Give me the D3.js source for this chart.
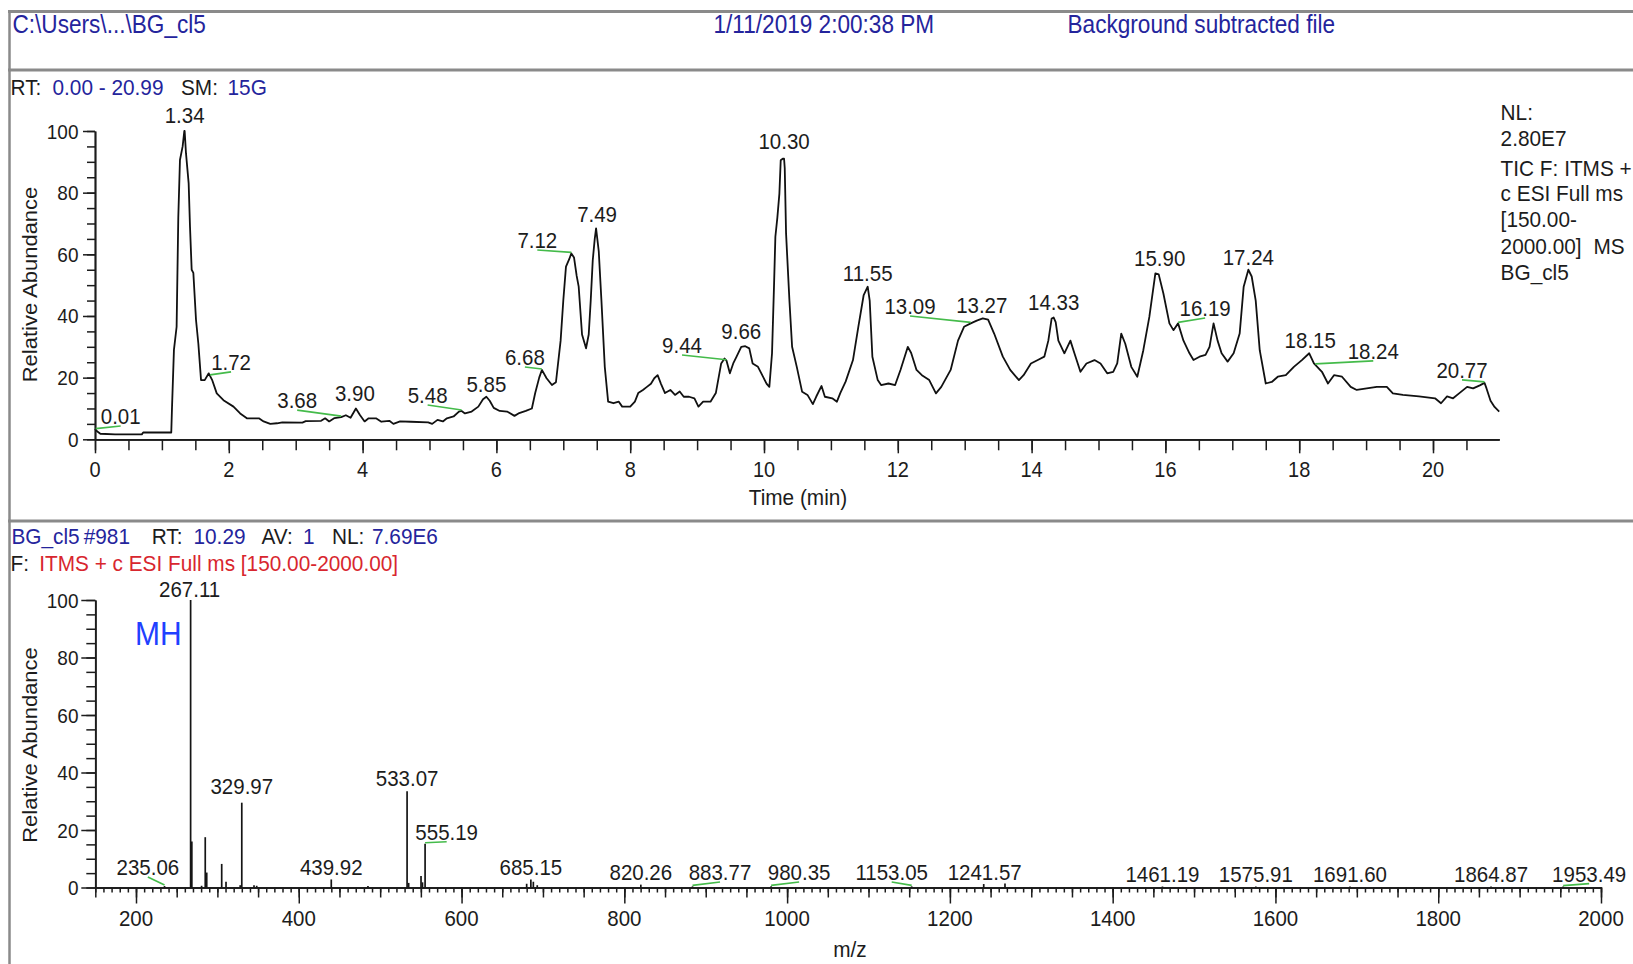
<!DOCTYPE html>
<html>
<head>
<meta charset="utf-8">
<script src="https://cdn.jsdelivr.net/npm/d3@7"></script>
<style>
  html, body { margin: 0; padding: 0; background: #fff; }
  svg { display: block; font-family: "Liberation Sans", Arial, Helvetica, sans-serif; }
</style>
</head>
<body>
<svg id="chart" width="1633" height="964"></svg>
<script>
// ---------------- Total ion chromatogram (RT in min, relative abundance %) ----------------
const ticTrace = [
  [0.00,3.4],[0.03,2.6],[0.08,1.8],[0.30,1.6],[0.70,1.6],[0.72,2.2],[1.14,2.2],[1.15,9.5],
  [1.18,29],[1.22,36.5],[1.245,72],[1.27,90.6],[1.31,95],[1.335,100],[1.34,100],[1.36,92.8],
  [1.40,83],[1.42,69],[1.445,55],[1.47,54],[1.51,38.7],[1.545,31],[1.585,19.2],[1.64,19.2],
  [1.70,21.4],[1.75,19.3],[1.82,14.9],[1.92,12.7],[2.07,10.6],[2.17,8.4],[2.27,6.8],[2.45,6.8],
  [2.52,5.8],[2.62,5.0],[2.72,5.2],[2.80,5.5],[3.10,5.4],[3.15,5.9],[3.38,6.0],[3.44,6.8],
  [3.50,5.8],[3.58,6.9],[3.68,7.2],[3.75,7.8],[3.82,7.0],[3.90,10],[3.96,7.9],[4.03,5.8],
  [4.09,6.8],[4.20,6.8],[4.28,5.7],[4.40,6.0],[4.46,5.0],[4.56,5.8],[4.72,5.7],[4.98,5.5],
  [5.04,5.0],[5.12,6.3],[5.20,5.8],[5.26,6.8],[5.36,7.4],[5.44,9.0],[5.48,9.2],[5.53,8.4],
  [5.63,9.0],[5.73,10.6],[5.80,13],[5.85,13.8],[5.90,12.5],[5.96,10.2],[6.05,9.2],[6.16,9.0],
  [6.27,7.6],[6.33,8.4],[6.44,9.2],[6.53,10],[6.58,15],[6.64,20],[6.68,22.5],[6.75,19.8],
  [6.83,17.6],[6.89,18.5],[6.96,32],[7.00,45],[7.04,56],[7.09,58.5],[7.12,60.3],[7.16,59],
  [7.20,53],[7.23,49.5],[7.28,34],[7.34,29.5],[7.38,34],[7.41,45],[7.44,58],[7.47,65],
  [7.49,68.4],[7.53,61],[7.57,45],[7.62,23.5],[7.67,12.2],[7.75,11.7],[7.83,12.2],[7.88,10.6],
  [8.00,10.6],[8.07,12.2],[8.12,15],[8.19,16],[8.25,17],[8.31,18],[8.36,19.8],[8.41,20.8],
  [8.46,18],[8.52,15],[8.60,16],[8.67,14.4],[8.74,15.5],[8.80,13.8],[8.88,13.8],[8.96,13.3],
  [9.02,10.6],[9.09,12.2],[9.20,12.2],[9.28,15],[9.36,24.6],[9.41,26.2],[9.44,25.5],[9.49,21.4],
  [9.54,24.6],[9.59,26.8],[9.66,30],[9.72,30.2],[9.78,29.5],[9.83,24.6],[9.91,23.5],[9.96,21.4],
  [10.04,18],[10.08,17],[10.12,27.9],[10.15,50],[10.17,65.7],[10.20,72],[10.23,79.7],[10.25,90.5],
  [10.28,91],[10.30,91],[10.31,88],[10.33,66.7],[10.38,45],[10.42,30],[10.49,23.5],[10.57,15.4],
  [10.65,14.4],[10.73,11.4],[10.78,13.8],[10.86,17.3],[10.91,13.8],[11.02,13.3],[11.09,12.2],[11.14,15],
  [11.22,18.7],[11.33,25.7],[11.41,36.5],[11.49,46.8],[11.55,49.5],[11.58,45],[11.62,26.8],[11.70,19.2],
  [11.75,17.6],[11.86,18.1],[11.96,17.6],[12.04,22.5],[12.15,30],[12.20,28],[12.28,22.5],[12.36,20.8],
  [12.47,19.2],[12.57,14.9],[12.65,17],[12.79,22.5],[12.90,32],[12.99,36.5],[13.09,37.6],[13.18,38.5],
  [13.27,39.2],[13.35,38.8],[13.44,34.3],[13.57,26.8],[13.68,22.5],[13.81,19.2],[13.88,20.8],[13.99,24.6],
  [14.10,25.8],[14.19,26.8],[14.25,32],[14.30,39.2],[14.33,39.5],[14.36,38],[14.40,32],[14.49,27.9],
  [14.58,32],[14.64,27.9],[14.73,21.9],[14.82,24.6],[14.94,25.7],[15.03,24.6],[15.13,21.4],[15.22,21.9],
  [15.28,24.6],[15.34,34.3],[15.40,31],[15.49,23.5],[15.58,20.3],[15.67,28.9],[15.76,39.7],[15.85,53.8],
  [15.90,53.5],[15.97,47.3],[16.06,37.6],[16.12,35.4],[16.19,37.6],[16.27,32],[16.36,27.9],[16.42,25.7],
  [16.51,26.8],[16.60,27.4],[16.66,30],[16.72,37.6],[16.78,32],[16.84,27.9],[16.93,25.2],[17.02,27.9],
  [17.11,34.3],[17.17,49.5],[17.24,55],[17.29,52.8],[17.35,45],[17.41,28.9],[17.50,18.1],[17.59,18.6],
  [17.68,20.3],[17.80,20.8],[17.92,23.5],[18.04,25.7],[18.15,27.9],[18.22,24.6],[18.34,21.9],[18.43,18.1],
  [18.52,20.8],[18.64,20.3],[18.77,17],[18.86,16],[19.01,16.5],[19.16,17],[19.31,17],[19.40,14.9],
  [19.55,14.4],[19.79,13.9],[20.03,13.3],[20.12,11.7],[20.21,13.9],[20.30,13.3],[20.39,14.9],[20.51,17],
  [20.60,16.5],[20.70,17.5],[20.77,18.3],[20.80,16.5],[20.86,12.5],[20.92,10.5],[20.99,9]
];
const ticPeakLabels = [0.01,1.34,1.72,3.68,3.90,5.48,5.85,6.68,7.12,7.49,9.44,9.66,10.30,
                       11.55,13.09,13.27,14.33,15.90,16.19,17.24,18.15,18.24,20.77];
const rtTicks = [0,2,4,6,8,10,12,14,16,18,20];
const abundanceTicks = [0,20,40,60,80,100];

// ---------------- Mass spectrum at RT 10.29 (m/z, relative abundance %) ----------------
const spectrumPeaks = [
  [235.06,0.5],[267.11,100],[268.6,16],[280.6,0.6],[285.08,17.5],[286.9,5.2],[305.3,8.2],[310.6,2],
  [328.0,0.8],[329.97,29.5],[345.0,0.8],[348.3,0.6],[439.92,2.8],[485.0,0.5],[533.07,33.5],[535.0,1.6],
  [550.2,4],[552.0,1.8],[555.19,15.2],[680.0,1.3],[685.15,2.8],[688.2,2],[693.0,0.8],[820.26,1],
  [883.77,0.4],[980.35,0.4],[1153.05,0.4],[1241.57,1.2],[1267.7,1.4],[1461.19,0.3],[1575.91,0.3],
  [1691.60,0.3],[1864.87,0.3],[1953.49,0.3]
];
const spectrumLabels = [235.06,267.11,329.97,439.92,533.07,555.19,685.15,820.26,883.77,980.35,
                        1153.05,1241.57,1461.19,1575.91,1691.60,1864.87,1953.49];
const mzTicks = [200,400,600,800,1000,1200,1400,1600,1800,2000];

// ---------------- label placement: [dx of label centre, dy of baseline] from the peak, px ----------------
const ticLabelOffsets = {
  "0.01":[25,-5.7], "1.34":[0,-8], "1.72":[21,-6], "3.68":[-44,-9], "3.90":[-1,-7], "5.48":[-34,-8],
  "5.85":[0,-5], "6.68":[-17,-5], "7.12":[-34,-5.4], "7.49":[1,-6.7], "9.44":[-44.5,-7.7],
  "9.66":[0,-8], "10.30":[0,-9.5], "11.55":[0,-6], "13.09":[-60.7,-9.4], "13.27":[-1,-5.4],
  "14.33":[0,-7.5], "15.90":[1,-8.4], "16.19":[27,-7.4], "17.24":[0,-4.7], "18.15":[1,-5],
  "18.24":[58,-6], "20.77":[-22.5,-5]
};
const specLabelOffsets = {
  "235.06":[-16.7,-11], "267.11":[-1,-3.5], "329.97":[0,-8.5], "439.92":[0,-4.5], "533.07":[0,-5],
  "555.19":[21.6,-4], "685.15":[0,-4.5], "820.26":[0,-4.6], "883.77":[27.5,-6.3], "980.35":[28,-6.3],
  "1153.05":[-20,-6.3], "1241.57":[1,-4], "1461.19":[0,-5], "1575.91":[0,-5], "1691.60":[0,-5],
  "1864.87":[0,-5], "1953.49":[26,-5]
};

// ---------------- drawing ----------------
const svg = d3.select("#chart");
const BLUE = "#24249c", RED = "#d8262e", INK = "#1c1c1c", GREEN = "#44bb4a", FRAME = "#8a8a8a";

// text is drawn slightly tall (scaleY) to give the narrow instrument-software look
function txt(g, x, y, str, o = {}) {
  return g.append("text")
    .attr("transform", `translate(${x},${y}) scale(1,1.1)`)
    .attr("text-anchor", o.anchor || "start")
    .attr("font-size", o.size || 20.8)
    .attr("fill", o.fill || INK)
    .text(str);
}
function richTxt(g, y, parts, size) {
  const t = g.append("text")
    .attr("transform", `translate(0,${y}) scale(1,1.1)`)
    .attr("font-size", size || 20.8);
  parts.forEach(([s, color, x]) => t.append("tspan").attr("x", x).attr("fill", color).text(s));
  return t;
}

// window frame
const frame = svg.append("g").attr("stroke", FRAME).attr("fill", "none");
frame.append("line").attr("x1", 8).attr("x2", 1633).attr("y1", 11.5).attr("y2", 11.5).attr("stroke-width", 3);
frame.append("line").attr("x1", 8).attr("x2", 1633).attr("y1", 70).attr("y2", 70).attr("stroke-width", 3);
frame.append("line").attr("x1", 8).attr("x2", 1633).attr("y1", 521).attr("y2", 521).attr("stroke-width", 3);
frame.append("line").attr("x1", 9.5).attr("x2", 9.5).attr("y1", 10).attr("y2", 964).attr("stroke-width", 2.5);

// header
const head = svg.append("g");
txt(head, 12.5, 32.5, "C:\\Users\\...\\BG_cl5", { fill: BLUE, size: 22.6 });
txt(head, 713.5, 32.5, "1/11/2019 2:00:38 PM", { fill: BLUE, size: 22.6 });
txt(head, 1067.5, 32.5, "Background subtracted file", { fill: BLUE, size: 22.6 });

// ===== chromatogram panel =====
const x1 = d3.scaleLinear().domain([0, 20.99]).range([95, 95 + 20.99 * 66.9]);
const y1 = d3.scaleLinear().domain([0, 100]).range([439.3, 131]);
const p1 = svg.append("g");

richTxt(p1, 95, [["RT:", INK, 10.5], ["0.00 - 20.99", BLUE, 52.5], ["SM:", INK, 181], ["15G", BLUE, 227.5]]);

function styleAxis(sel, w) {
  sel.selectAll("path.domain").attr("stroke", INK).attr("stroke-width", w || 1.7);
  sel.selectAll(".tick line").attr("stroke", INK).attr("stroke-width", 1.5);
  sel.selectAll(".tick text").remove();
}
p1.append("g").attr("transform", `translate(0,${y1(0)})`)
  .call(d3.axisBottom(x1).tickValues(d3.range(0, 21, 0.5)).tickSize(11).tickSizeOuter(0)).call(styleAxis);
p1.append("g").attr("transform", `translate(0,${y1(0)})`)
  .call(d3.axisBottom(x1).tickValues(rtTicks).tickSize(14).tickSizeOuter(0)).call(styleAxis);
p1.append("g").attr("transform", `translate(${x1(0)},0)`)
  .call(d3.axisLeft(y1).tickValues(d3.range(0, 101, 5)).tickSize(8).tickSizeOuter(0)).call(styleAxis);
p1.append("g").attr("transform", `translate(${x1(0)},0)`)
  .call(d3.axisLeft(y1).tickValues(abundanceTicks).tickSize(12).tickSizeOuter(0)).call(styleAxis);

rtTicks.forEach(t => txt(p1, x1(t), 477, String(t), { anchor: "middle", size: 20 }));
abundanceTicks.forEach(v => txt(p1, 78.5, y1(v) + 7.5, String(v), { anchor: "end", size: 19 }));
txt(p1, 798, 505, "Time (min)", { anchor: "middle" });
p1.append("text")
  .attr("transform", `translate(36.5,284.5) rotate(-90) scale(1.1,1)`)
  .attr("text-anchor", "middle").attr("font-size", 20).attr("fill", INK)
  .text("Relative Abundance");

// trace
p1.append("path").datum(ticTrace)
  .attr("fill", "none").attr("stroke", "#111").attr("stroke-width", 1.8).attr("stroke-linejoin", "round")
  .attr("d", d3.line().x(d => x1(d[0])).y(d => y1(d[1])));

const bis = d3.bisector(d => d[0]).left;
function ticAt(t) {
  const i = Math.max(1, Math.min(ticTrace.length - 1, bis(ticTrace, t)));
  const a = ticTrace[i - 1], b = ticTrace[i];
  return a[1] + (b[1] - a[1]) * (t - a[0]) / (b[0] - a[0]);
}
function peakLabel(g, px, py, text, off) {
  const lx = px + off[0], ly = py + off[1];
  if (Math.abs(off[0]) > 8) {
    g.append("line").attr("x1", px).attr("y1", py - 1).attr("x2", lx).attr("y2", ly + 2)
      .attr("stroke", GREEN).attr("stroke-width", 1.6);
  }
  txt(g, lx, ly, text, { anchor: "middle", size: 20.5 });
}
ticPeakLabels.forEach(t => {
  const s = t.toFixed(2);
  peakLabel(p1, x1(t), y1(ticAt(t)), s, ticLabelOffsets[s]);
});

// right-hand trace information
const info = svg.append("g");
[["NL:", 120], ["2.80E7", 146], ["TIC F: ITMS +", 176], ["c ESI Full ms", 201],
 ["[150.00-", 227], ["2000.00]", 254], ["BG_cl5", 280]].forEach(([s, y]) => txt(info, 1500.6, y, s));
txt(info, 1593.5, 254, "MS");

// ===== spectrum panel =====
const x2 = d3.scaleLinear().domain([200, 2000]).range([136, 1601]);
const x2d = x2.copy().domain([150, 2000]).range([x2(150), x2(2000)]);
const y2 = d3.scaleLinear().domain([0, 100]).range([887.5, 600]);
const p2 = svg.append("g");

richTxt(p2, 544, [["BG_cl5", BLUE, 11.5], ["#981", BLUE, 83.7], ["RT:", INK, 151.7], ["10.29", BLUE, 193.5],
                  ["AV:", INK, 261.5], ["1", BLUE, 303], ["NL:", INK, 332], ["7.69E6", BLUE, 372]]);
richTxt(p2, 571, [["F:", INK, 10.5], ["ITMS + c ESI Full ms [150.00-2000.00]", RED, 39.2]]);

p2.append("g").attr("transform", `translate(0,${y2(0)})`)
  .call(d3.axisBottom(x2d).tickValues(d3.range(150, 2001, 10)).tickSize(5).tickSizeOuter(0)).call(styleAxis);
p2.append("g").attr("transform", `translate(0,${y2(0)})`)
  .call(d3.axisBottom(x2d).tickValues(d3.range(150, 2001, 50)).tickSize(10).tickSizeOuter(0)).call(styleAxis);
p2.append("g").attr("transform", `translate(0,${y2(0)})`)
  .call(d3.axisBottom(x2d).tickValues(mzTicks).tickSize(16).tickSizeOuter(0)).call(styleAxis);
p2.append("g").attr("transform", `translate(${x2(150)},0)`)
  .call(d3.axisLeft(y2).tickValues(d3.range(0, 101, 5)).tickSize(9).tickSizeOuter(0)).call(styleAxis);
p2.append("g").attr("transform", `translate(${x2(150)},0)`)
  .call(d3.axisLeft(y2).tickValues(abundanceTicks).tickSize(14).tickSizeOuter(0)).call(styleAxis);

mzTicks.forEach(m => txt(p2, x2(m), 925.5, String(m), { anchor: "middle", size: 20.5 }));
abundanceTicks.forEach(v => txt(p2, 78.5, y2(v) + 7.5, String(v), { anchor: "end", size: 19 }));
txt(p2, 850, 957, "m/z", { anchor: "middle" });
p2.append("text")
  .attr("transform", `translate(36.5,745) rotate(-90) scale(1.1,1)`)
  .attr("text-anchor", "middle").attr("font-size", 20).attr("fill", INK)
  .text("Relative Abundance");

// centroid sticks
p2.append("g").selectAll("line").data(spectrumPeaks).join("line")
  .attr("x1", d => x2(d[0])).attr("x2", d => x2(d[0]))
  .attr("y1", y2(0)).attr("y2", d => Math.min(y2(0) - 1, y2(d[1])))
  .attr("stroke", "#151515").attr("stroke-width", 1.7);

const peakByMz = new Map(spectrumPeaks.map(d => [d[0].toFixed(2), d[1]]));
spectrumLabels.forEach(m => {
  const s = m.toFixed(2);
  peakLabel(p2, x2(m), y2(peakByMz.get(s)), s, specLabelOffsets[s]);
});

txt(p2, 135, 645, "MH", { fill: "#2040ff", size: 30 });
</script>
</body>
</html>
